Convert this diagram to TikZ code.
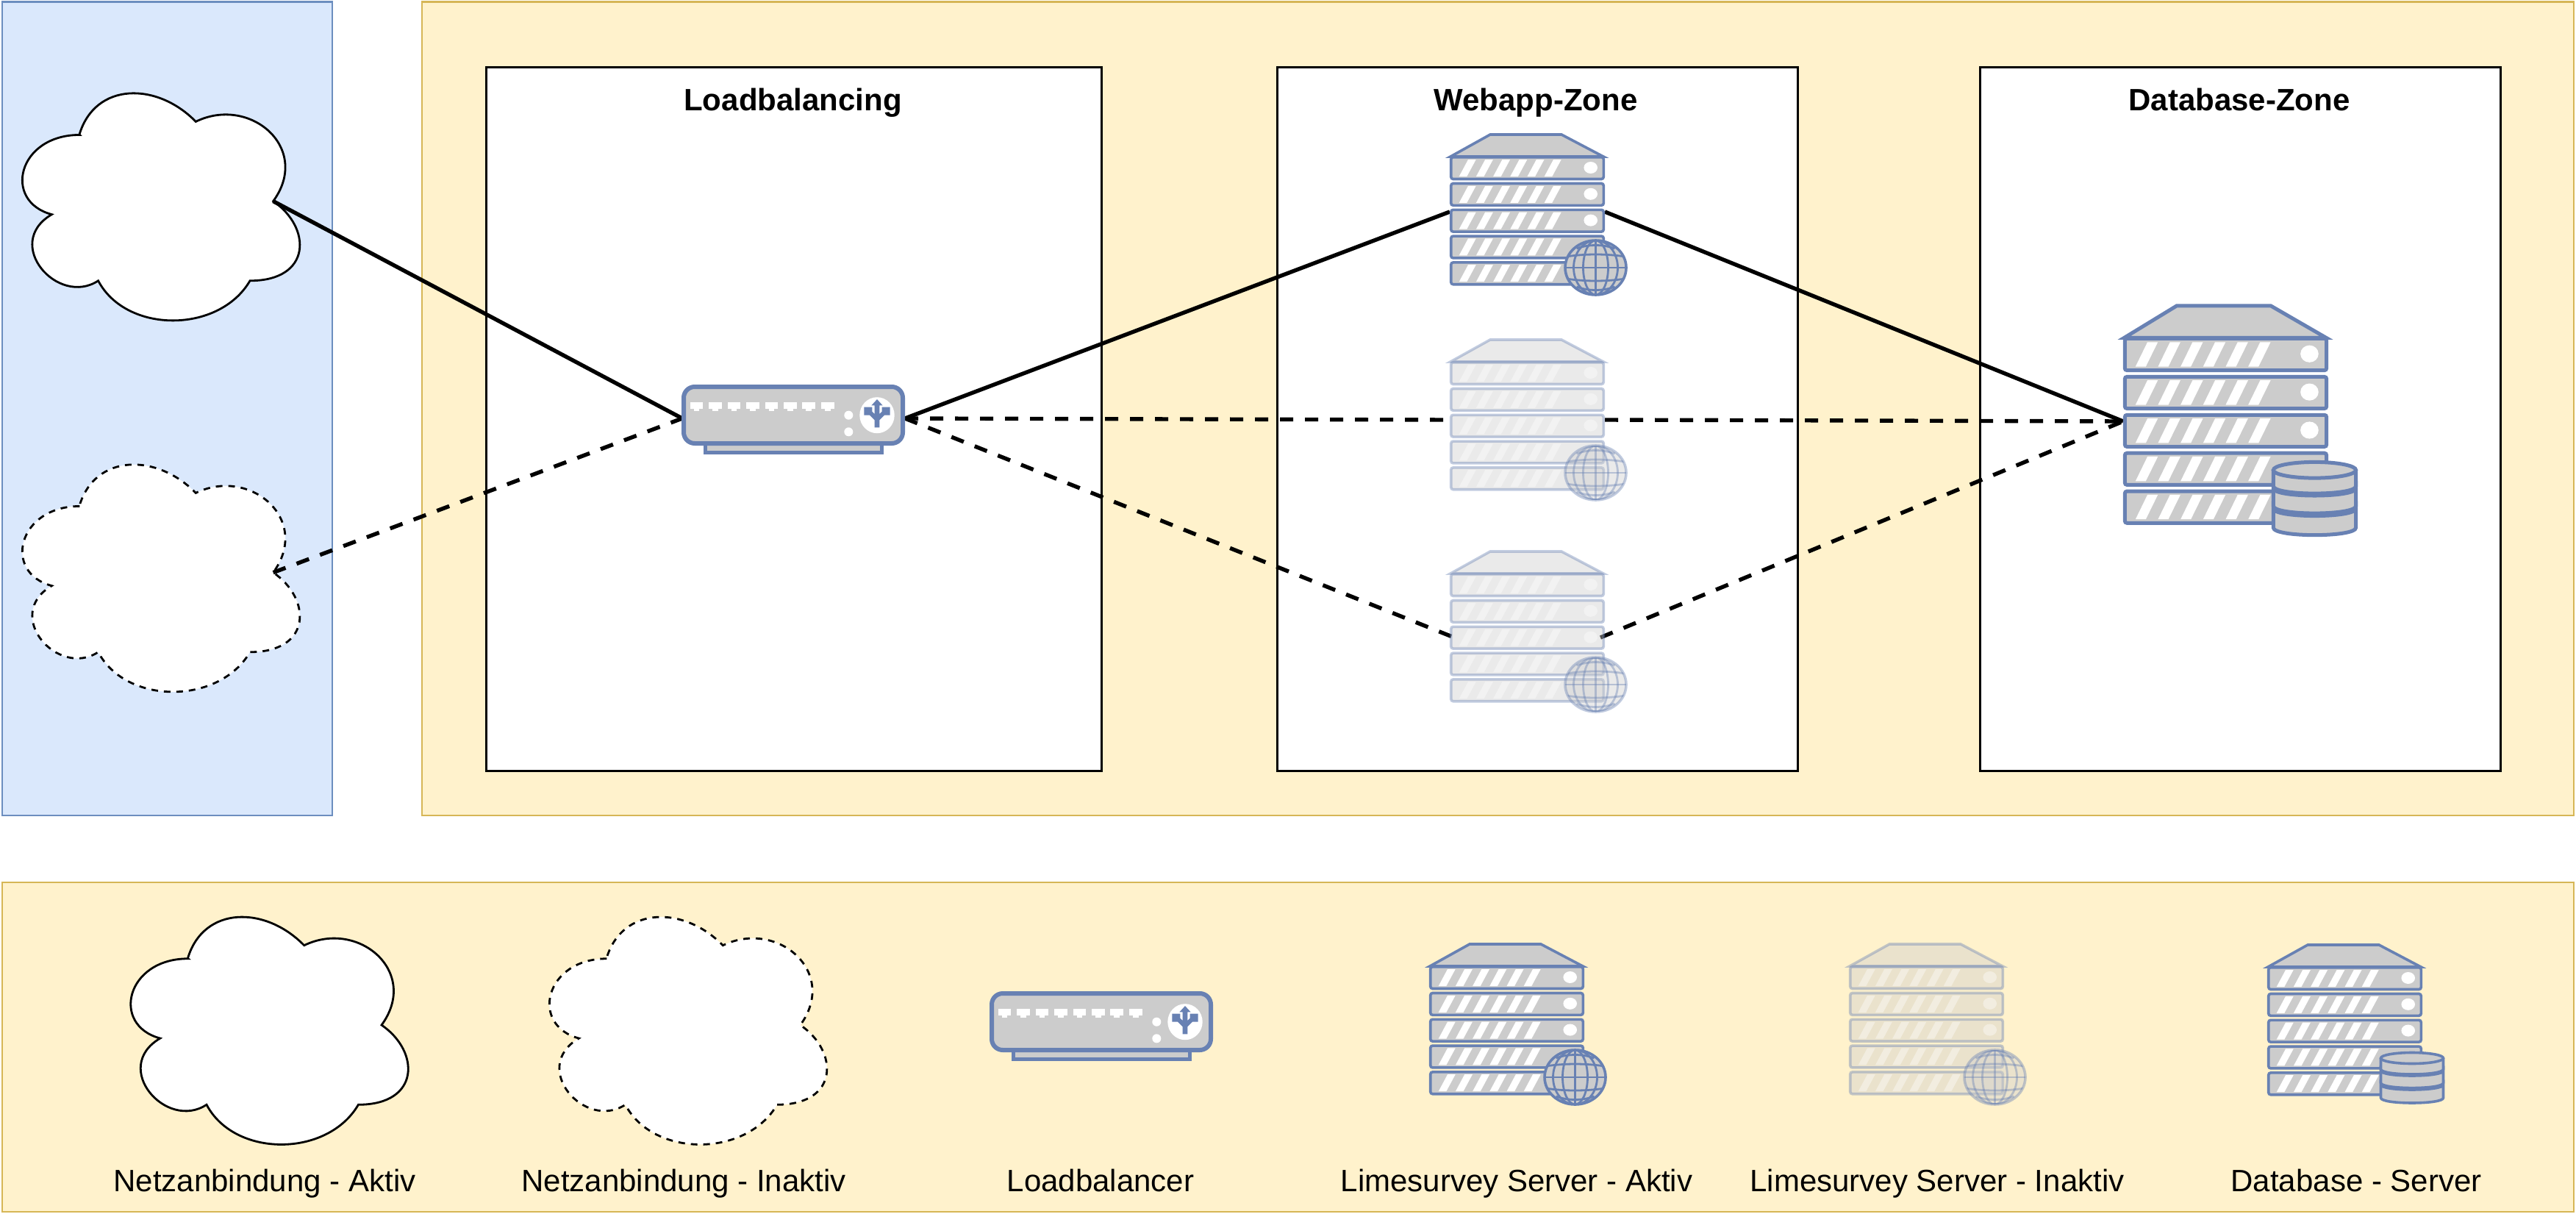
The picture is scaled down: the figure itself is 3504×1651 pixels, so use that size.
\documentclass[tikz,border=0pt]{standalone}
\usepackage{fontspec}
\setmainfont{Liberation Sans}
\definecolor{bluefill}{HTML}{DAE8FC}
\definecolor{blueline}{HTML}{6C8EBF}
\definecolor{yellowfill}{HTML}{FFF2CC}
\definecolor{yellowline}{HTML}{D6B656}
\definecolor{iconline}{HTML}{6881B3}
\definecolor{icongray}{HTML}{CCCCCC}
\tikzset{
  zoneblue/.style={draw=blueline,fill=bluefill,line width=2.6pt},
  zoneyellow/.style={draw=yellowline,fill=yellowfill,line width=2.6pt},
  zonebox/.style={draw=black,fill=white,line width=3pt},
  cloudline/.style={draw=black,fill=white,line width=2.8pt},
  clouddash/.style={cloudline,dash pattern=on 9pt off 8pt},
  linkon/.style={draw=black,line width=5.4pt},
  linkoff/.style={draw=black,line width=5.4pt,dash pattern=on 18pt off 16pt},
  titletext/.style={font=\bfseries\fontsize{42}{48}\selectfont,inner sep=0pt,anchor=base},
  legendtext/.style={font=\fontsize{42}{48}\selectfont,inner sep=0pt,anchor=base},
  hitbox/.style={inner sep=0pt,outer sep=0pt,minimum height=2pt},
  iconshape/.style={draw=iconline,fill=icongray},
}
% cloud outline (x0,y0,w,h,style)
\newcommand{\cloudshape}[5]{%
  \begin{scope}[shift={(#1,#2)},xscale=#3,yscale=#4]
    \path[#5] (0.25,0.25) .. controls (0.05,0.25) and (0,0.5) .. (0.16,0.55)
      .. controls (0,0.66) and (0.18,0.9) .. (0.31,0.8)
      .. controls (0.4,1) and (0.7,1) .. (0.8,0.8)
      .. controls (1,0.8) and (1,0.6) .. (0.875,0.5)
      .. controls (1,0.3) and (0.8,0.1) .. (0.625,0.2)
      .. controls (0.5,0.05) and (0.3,0.05) .. cycle;
  \end{scope}}
\newcommand{\globeglyph}{%
  \path[iconshape] (198.5,152) ellipse [x radius=41.5,y radius=37];
  \begin{scope}
    \clip (198.5,152) ellipse [x radius=41.5,y radius=37];
    \begin{scope}[shift={(198.5,152)},draw=iconline,line width=2.8pt]
      \draw (0,-37) -- (0,37);
      \draw (-42,0) -- (42,0);
      \draw (0,0) ellipse [x radius=17,y radius=37];
      \draw (0,0) ellipse [x radius=30,y radius=37];
      \draw (-40,-15) .. controls (-15,-19) and (15,-19) .. (40,-15);
      \draw (-40,15) .. controls (-15,19) and (15,19) .. (40,15);
      \draw (-26,-26) .. controls (-10,-32) and (10,-32) .. (26,-26);
      \draw (-26,26) .. controls (-10,32) and (10,32) .. (26,26);
    \end{scope}
  \end{scope}}
\newcommand{\dbdisc}[2]{%
  \path[iconshape] (154.5,#1) .. controls (154.5,#1+9.3) and (239.5,#1+9.3) .. (239.5,#1)
     -- (239.5,#2) .. controls (239.5,#2+9.3) and (154.5,#2+9.3) .. (154.5,#2) -- cycle;}
\newcommand{\dbglyph}{%
  \dbdisc{161}{179}
  \dbdisc{142}{158.6}
  \path[iconshape] (154.5,125) -- (154.5,140) .. controls (154.5,149.3) and (239.5,149.3) .. (239.5,140) -- (239.5,125);
  \path[iconshape] (197,125) ellipse [x radius=42.5,y radius=7.5];}
% server icon: x y xscale yscale linewidth opacity glyph
\newcommand{\servericon}[7]{%
  \begin{scope}[shift={(#1,#2)},xscale=#3,yscale=#4,opacity=#6,line width=#5pt]
    \path[iconshape,line join=miter] (1,1) -- (55,-29) -- (152,-29) -- (209,1) -- cycle;
    \foreach \r in {0,...,4}{
      \path[iconshape,rounded corners=3pt] (1.7,{1.7+35.8*\r}) rectangle (209.3,{31.5+35.8*\r});
      \foreach \s in {0,...,5}{
        \fill[white] ({12.7+23.2*\s},{28+35.8*\r}) -- ({25+23.2*\s},{5+35.8*\r})
           -- ({35.7+23.2*\s},{5+35.8*\r}) -- ({23.3+23.2*\s},{28+35.8*\r}) -- cycle;
      }
    }
    \foreach \r in {0,1,2}{
      \fill[white] (191.7,{16+35.8*\r}) ellipse [x radius=9.3,y radius=8];
    }
    #7
  \end{scope}}
% load balancer icon: outer top-left corner
\newcommand{\lbicon}[2]{%
  \begin{scope}[shift={(#1,#2)}]
    \path[iconshape,line width=5pt] (32.5,78) rectangle (272.5,92.5);
    \path[iconshape,line width=6pt,rounded corners=15pt] (3,3) rectangle (301,80);
    \foreach \p in {0,...,7}{
      \fill[white] ({11.7+25.45*\p},24.3) rectangle ({29.4+25.45*\p},32.6);
      \fill[white] ({16.7+25.45*\p},32.6) rectangle ({24.4+25.45*\p},36);
    }
    \fill[white] (227.3,41.7) circle [radius=6];
    \fill[white] (227.3,64.3) circle [radius=6];
    \fill[white] (266,41.7) ellipse [x radius=23.7,y radius=24.5];
    \begin{scope}[shift={(266,41.7)},scale=0.3333]
      \fill[iconline] (0,-65) -- (23,-40) -- (10,-40) -- (10,-5) -- (20,-15) -- (20,-33) -- (53,-33)
        -- (53,0) -- (30,0) -- (10,20) -- (10,50) -- (-10,50) -- (-10,20) -- (-30,0) -- (-53,0)
        -- (-53,-33) -- (-20,-33) -- (-20,-15) -- (-10,-5) -- (-10,-40) -- (-23,-40) -- cycle;
    \end{scope}
  \end{scope}}
\begin{document}
\begin{tikzpicture}[x=1pt,y=-1pt]
  \useasboundingbox (0,0) rectangle (3504,1651);
  % zones
  \path[zoneblue] (3,2.5) rectangle (452,1109);
  \path[zoneyellow] (574,2.5) rectangle (3501,1109);
  \path[zoneyellow] (3,1200) rectangle (3501,1648);
  \path[zonebox] (661,92) rectangle (1498,1048);
  \path[zonebox] (1737,92) rectangle (2445,1048);
  \path[zonebox] (2693,92) rectangle (3401,1048);
  % titles
  \node[titletext] (tlb) at (1078.5,150) {Loadbalancing};
  \node[titletext] (tweb) at (2089,150) {Webapp-Zone};
  \node[titletext] (tdb) at (3046,150) {Database-Zone};
  % clouds
  \cloudshape{3}{93.3}{421.3}{360.6}{cloudline}
  \cloudshape{3}{598.3}{421.3}{360.6}{clouddash}
  % connection points
  \coordinate (wanA) at (371.6,273.6);
  \coordinate (wanB) at (371.6,778.6);
  \node[hitbox,minimum width=303pt] (lb) at (1079.5,569) {};
  \node[hitbox,minimum width=211pt] (webA) at (2077.5,288) {};
  \node[hitbox,minimum width=211pt] (webB) at (2077.5,571) {};
  \node[hitbox,minimum width=199pt] (webC) at (2077.5,867) {};
  \node[hitbox,minimum width=279pt] (db) at (3027.5,573) {};
  % connectors
  \draw[linkon] (wanA) -- (lb.west);
  \draw[linkoff] (wanB) -- (lb.west);
  \draw[linkon] (lb.east) -- (webA.west);
  \draw[linkoff] (lb.east) -- (webB.west);
  \draw[linkoff] (lb.east) -- (webC.west);
  \draw[linkon] (webA.east) -- (db.west);
  \draw[linkoff] (webB.east) -- (db.west);
  \draw[linkoff] (webC.east) -- (db.west);
  % icons
  \lbicon{927}{523}
  \servericon{1972}{212}{1}{1}{3.6}{1}{\globeglyph}
  \servericon{1972}{491}{1}{1}{3.6}{0.4}{\globeglyph}
  \servericon{1972}{779}{1}{1}{3.6}{0.4}{\globeglyph}
  \servericon{2888}{458}{1.322}{1.45}{5}{1}{\dbglyph}
  % legend
  \cloudshape{150.4}{1213.5}{421.3}{361}{cloudline}
  \cloudshape{720}{1213.5}{421.3}{361}{clouddash}
  \lbicon{1346}{1348}
  \servericon{1944}{1313}{1}{1}{3.6}{1}{\globeglyph}
  \servericon{2515}{1313}{1}{1}{3.6}{0.4}{\globeglyph}
  \servericon{3084}{1314}{1}{1}{3.6}{1}{\dbglyph}
  \node[legendtext] (l1) at (360,1620) {Netzanbindung - Aktiv};
  \node[legendtext] (l2) at (930,1620) {Netzanbindung - Inaktiv};
  \node[legendtext] (l3) at (1497,1620) {Loadbalancer};
  \node[legendtext] (l4) at (2063,1620) {Limesurvey Server - Aktiv};
  \node[legendtext] (l5) at (2635,1620) {Limesurvey Server - Inaktiv};
  \node[legendtext] (l6) at (3205,1620) {Database - Server};
\end{tikzpicture}
\end{document}
